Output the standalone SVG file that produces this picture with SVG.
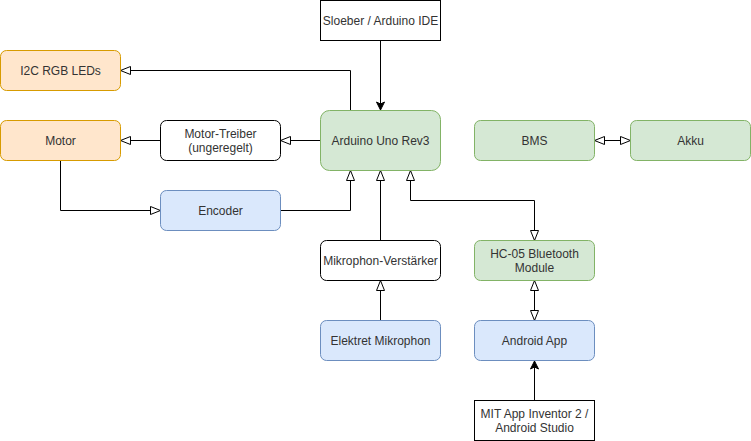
<svg xmlns="http://www.w3.org/2000/svg" width="751" height="441" viewBox="0 0 751 441">
<style>
  text { font-family: "Liberation Sans", Arial, Helvetica, sans-serif; font-size: 12px; fill: #333333; text-anchor: middle; dominant-baseline: central; }
  .plain { fill: #ffffff; stroke: #000000; stroke-width: 1; }
  .orange { fill: #ffe6cc; stroke: #d79b00; stroke-width: 1; }
  .green { fill: #d5e8d4; stroke: #82b366; stroke-width: 1; }
  .blue { fill: #dae8fc; stroke: #6c8ebf; stroke-width: 1; }
  .edge { fill: none; stroke: #000000; stroke-width: 1; }
  .open { marker-end: url(#openArrow); }
  .both { marker-start: url(#openArrow); marker-end: url(#openArrow); }
  .filled { marker-end: url(#classicArrow); }
</style>
<defs>
  <marker id="openArrow" markerUnits="userSpaceOnUse" markerWidth="12" markerHeight="10" refX="10" refY="4.5" orient="auto-start-reverse" viewBox="-1 0 12 9" overflow="visible">
    <path d="M0,0.5 L10,4.5 L0,8.5 Z" fill="#ffffff" stroke="#000000" stroke-width="1"/>
  </marker>
  <marker id="classicArrow" markerUnits="userSpaceOnUse" markerWidth="10" markerHeight="8" refX="8" refY="4" orient="auto" overflow="visible">
    <path d="M0,0 L8,4 L0,8 L2,4 Z" fill="#000000" stroke="#000000" stroke-width="1"/>
  </marker>
</defs>
<rect width="751" height="441" fill="#ffffff"/>
<g id="connectors">
  <path class="edge filled" d="M380.5,40.5 L380.5,110"/>
  <path class="edge open" d="M350.5,110.5 L350.5,70.5 L120.5,70.5"/>
  <path class="edge open" d="M320.5,140.5 L280.5,140.5"/>
  <path class="edge open" d="M160.5,140.5 L120.5,140.5"/>
  <path class="edge open" d="M60.5,160.5 L60.5,210.5 L160.5,210.5"/>
  <path class="edge open" d="M280.5,210.5 L350.5,210.5 L350.5,170.5"/>
  <path class="edge open" d="M380.5,240.5 L380.5,170.5"/>
  <path class="edge both" d="M410.5,170.5 L410.5,200.5 L534.5,200.5 L534.5,240.5"/>
  <path class="edge open" d="M380.5,320.5 L380.5,280.5"/>
  <path class="edge both" d="M594.5,140.5 L630.5,140.5"/>
  <path class="edge both" d="M534.5,280.5 L534.5,320.5"/>
  <path class="edge filled" d="M534.5,400.5 L534.5,361"/>
</g>
<g id="sloeber">
  <rect class="plain" x="320.5" y="0.5" width="120" height="40"/>
  <text x="380.5" y="20.5">Sloeber / Arduino IDE</text>
</g>
<g id="i2c-leds">
  <rect class="orange" x="0.5" y="50.5" width="120" height="40" rx="6" ry="6"/>
  <text x="60.5" y="70.5">I2C RGB LEDs</text>
</g>
<g id="motor">
  <rect class="orange" x="0.5" y="120.5" width="120" height="40" rx="6" ry="6"/>
  <text x="60.5" y="140.5">Motor</text>
</g>
<g id="motor-treiber">
  <rect class="plain" x="160.5" y="120.5" width="120" height="40" rx="6" ry="6"/>
  <text x="220.5" y="133.5">Motor-Treiber</text>
  <text x="220.5" y="147.5">(ungeregelt)</text>
</g>
<g id="arduino">
  <rect class="green" x="320.5" y="110.5" width="120" height="60" rx="9" ry="9"/>
  <text x="380.5" y="140.5">Arduino Uno Rev3</text>
</g>
<g id="bms">
  <rect class="green" x="474.5" y="120.5" width="120" height="40" rx="6" ry="6"/>
  <text x="534.5" y="140.5">BMS</text>
</g>
<g id="akku">
  <rect class="green" x="630.5" y="120.5" width="120" height="40" rx="6" ry="6"/>
  <text x="690.5" y="140.5">Akku</text>
</g>
<g id="encoder">
  <rect class="blue" x="160.5" y="190.5" width="120" height="40" rx="6" ry="6"/>
  <text x="220.5" y="210.5">Encoder</text>
</g>
<g id="mikrophon-verstaerker">
  <rect class="plain" x="320.5" y="240.5" width="120" height="40" rx="6" ry="6"/>
  <text x="380.5" y="260.5">Mikrophon-Verstärker</text>
</g>
<g id="hc05">
  <rect class="green" x="474.5" y="240.5" width="120" height="40" rx="6" ry="6"/>
  <text x="534.5" y="253.5">HC-05 Bluetooth</text>
  <text x="534.5" y="267.5">Module</text>
</g>
<g id="elektret-mikrophon">
  <rect class="blue" x="320.5" y="320.5" width="120" height="40" rx="6" ry="6"/>
  <text x="380.5" y="340.5">Elektret Mikrophon</text>
</g>
<g id="android-app">
  <rect class="blue" x="474.5" y="320.5" width="120" height="40" rx="6" ry="6"/>
  <text x="534.5" y="340.5">Android App</text>
</g>
<g id="mit-app-inventor">
  <rect class="plain" x="474.5" y="400.5" width="120" height="40"/>
  <text x="534.5" y="413.5">MIT App Inventor 2 /</text>
  <text x="534.5" y="427.5">Android Studio</text>
</g>
</svg>
